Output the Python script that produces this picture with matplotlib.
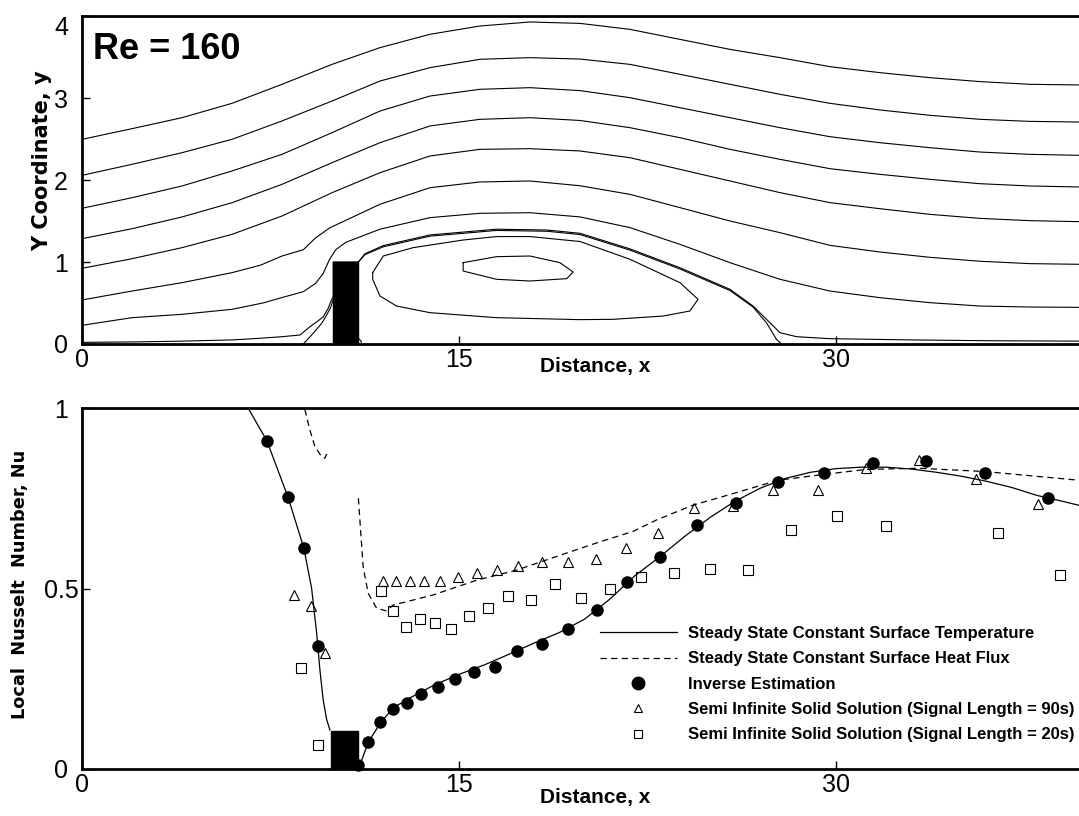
import matplotlib
matplotlib.use('Agg')
import matplotlib.pyplot as plt
from matplotlib.patches import Rectangle
from matplotlib.lines import Line2D

NARROW = ['Liberation Sans Narrow', 'Liberation Sans', 'DejaVu Sans']

# ---- streamlines, Re = 160 ----
x_st = [0, 1.99, 3.98, 5.97, 7.96, 9.95, 11.86, 13.85, 15.84, 17.83, 19.82,
        21.81, 23.8, 25.79, 27.78, 29.77, 31.76, 33.75, 35.74, 37.73, 39.7]
psi1 = [2.496, 2.626, 2.76, 2.935, 3.167, 3.41, 3.614, 3.777, 3.878, 3.927, 3.91,
        3.837, 3.715, 3.593, 3.492, 3.382, 3.309, 3.248, 3.2, 3.167, 3.159]
psi2 = [2.057, 2.191, 2.333, 2.496, 2.72, 2.963, 3.207, 3.37, 3.472, 3.492, 3.475,
        3.41, 3.289, 3.167, 3.045, 2.935, 2.854, 2.789, 2.74, 2.715, 2.707]
psi3 = [1.655, 1.784, 1.927, 2.11, 2.313, 2.577, 2.841, 3.024, 3.106, 3.126, 3.09,
        3.004, 2.882, 2.76, 2.638, 2.528, 2.455, 2.394, 2.341, 2.313, 2.301]
psi4 = [1.284, 1.406, 1.549, 1.723, 1.947, 2.211, 2.455, 2.659, 2.74, 2.76, 2.726,
        2.638, 2.516, 2.374, 2.252, 2.138, 2.069, 2.008, 1.955, 1.927, 1.915]
psi5 = [0.923, 1.04, 1.175, 1.337, 1.561, 1.845, 2.089, 2.293, 2.374, 2.382, 2.354,
        2.272, 2.13, 1.988, 1.846, 1.724, 1.65, 1.581, 1.532, 1.504, 1.492]

x_psi6 = [0, 1.99, 3.98, 5.97, 7.12, 7.96, 8.81, 9.28, 9.87, 11.86, 13.85, 15.84,
          17.83, 19.82, 21.81, 23.8, 25.79, 27.78, 29.77, 31.76, 33.75, 35.74, 37.73, 39.7]
psi6 = [0.537, 0.646, 0.748, 0.87, 0.963, 1.073, 1.15, 1.29, 1.418, 1.704, 1.906, 1.976,
        1.988, 1.93, 1.825, 1.663, 1.5, 1.358, 1.203, 1.122, 1.057, 1.009, 0.98, 0.972]

x_psi7 = [0, 1.99, 3.98, 5.97, 7.2, 8.0, 8.81, 9.3, 9.6, 9.85, 10.1, 10.5, 11.86, 13.85,
          15.84, 17.83, 19.82, 21.81, 23.8, 25.79, 27.78, 29.77, 31.76, 33.75, 35.74,
          37.73, 39.7]
psi7 = [0.228, 0.321, 0.362, 0.423, 0.5, 0.57, 0.638, 0.74, 0.86, 1.03, 1.15, 1.24, 1.40,
        1.541, 1.594, 1.601, 1.55, 1.419, 1.215, 0.992, 0.789, 0.646, 0.565, 0.504, 0.463,
        0.451, 0.447]

# dividing streamline: along the wall, up the block face, over it, reattaching
x_div = [0, 2, 4, 6, 7.1, 8.0, 8.68, 9.07, 9.34, 9.6, 9.8, 9.9, 10.0, 10.0, 11.0, 11.26,
         11.99, 13.85, 16.5, 18.5, 19.82, 21.81, 23.8, 25.79, 26.71, 27.38, 27.78, 28.44,
         29.77, 33.0, 36.0, 39.7]
y_div = [0.02, 0.025, 0.035, 0.05, 0.07, 0.09, 0.11, 0.21, 0.27, 0.33, 0.435, 0.516, 0.58,
         1.0, 1.0, 1.1, 1.2, 1.33, 1.40, 1.39, 1.35, 1.16, 0.93, 0.667, 0.463, 0.26, 0.138,
         0.089, 0.065, 0.05, 0.04, 0.035]

x_sep = [11.0, 11.26, 11.99, 13.85, 16.5, 18.5, 19.82, 21.81, 23.8, 25.79, 26.71, 27.24,
         27.44, 27.64, 27.84]
y_sep = [1.0, 1.09, 1.185, 1.315, 1.385, 1.375, 1.335, 1.145, 0.915, 0.652, 0.45, 0.26,
         0.159, 0.057, 0.0]

x_bub = [11.57, 11.99, 13.18, 15.17, 16.5, 17.83, 19.82, 21.81, 23.8, 24.52, 24.19, 23.13,
         21.14, 19.82, 16.5, 13.85, 12.52, 11.86, 11.57, 11.57]
y_bub = [0.87, 1.073, 1.175, 1.268, 1.31, 1.31, 1.25, 1.033, 0.748, 0.545, 0.402, 0.341,
         0.301, 0.297, 0.321, 0.382, 0.463, 0.585, 0.789, 0.87]

x_core = [15.17, 16.5, 17.83, 19.02, 19.55, 19.29, 17.83, 16.5, 15.17, 15.17]
y_core = [0.992, 1.065, 1.073, 0.992, 0.878, 0.797, 0.768, 0.789, 0.89, 0.992]

x_front = [8.81, 9.2, 9.54, 9.74, 9.9, 9.97, 10.0]
y_front = [0.0, 0.13, 0.252, 0.354, 0.448, 0.516, 0.55]

x_corner = [11.0, 11.1, 11.13]
y_corner = [0.07, 0.04, 0.0]

# ---- local Nusselt number ----
x_t_up = [6.61, 7.36, 8.2, 8.83, 9.14, 9.34, 9.47, 9.6, 9.74, 9.87]
nu_t_up = [1.0, 0.909, 0.753, 0.612, 0.50, 0.376, 0.274, 0.191, 0.136, 0.108]
x_t_dn = [11.0, 11.4, 11.9, 12.4, 13.0, 14.0, 15.0, 16.0, 17.0, 18.0, 19.0, 20.0, 21.0,
          22.0, 23.0, 24.0, 25.0, 26.0, 27.0, 28.0, 29.0, 30.0, 31.0, 32.0, 33.0, 34.0,
          35.0, 36.0, 37.0, 38.0, 39.0, 40.0]
nu_t_dn = [0.0, 0.075, 0.13, 0.17, 0.195, 0.232, 0.262, 0.288, 0.318, 0.349, 0.378, 0.415,
           0.47, 0.535, 0.588, 0.645, 0.697, 0.742, 0.778, 0.805, 0.822, 0.832, 0.836,
           0.836, 0.831, 0.822, 0.811, 0.797, 0.78, 0.758, 0.742, 0.725]

x_q_up = [8.87, 9.07, 9.27, 9.54, 9.67, 9.74]
nu_q_up = [0.996, 0.939, 0.893, 0.865, 0.861, 0.873]
x_q_dn = [11.0, 11.06, 11.19, 11.39, 11.73, 12.12, 12.38, 13.97, 15.71, 17.3, 19.28, 20.6,
          21.93, 22.87, 24.32, 25.92, 27.71, 29.53, 31.22, 33.35, 35.93, 39.67]
nu_q_dn = [0.75, 0.69, 0.56, 0.487, 0.445, 0.438, 0.454, 0.482, 0.523, 0.551, 0.598, 0.629,
           0.658, 0.69, 0.731, 0.763, 0.8, 0.816, 0.83, 0.833, 0.824, 0.80]

x_inv = [7.36, 8.20, 8.83, 9.39, 11.0, 11.37, 11.86, 12.36, 12.92, 13.51, 14.15, 14.85,
         15.61, 16.45, 17.33, 18.32, 19.35, 20.48, 21.71, 23.01, 24.46, 26.01, 27.71,
         29.53, 31.49, 33.6, 35.93, 38.43]
nu_inv = [0.909, 0.753, 0.612, 0.341, 0.01, 0.076, 0.131, 0.166, 0.184, 0.208, 0.228, 0.248,
          0.270, 0.283, 0.327, 0.345, 0.388, 0.440, 0.518, 0.588, 0.676, 0.738, 0.796,
          0.821, 0.849, 0.853, 0.819, 0.752]

x_90s = [8.45, 9.11, 9.67, 11.99, 12.50, 13.05, 13.62, 14.25, 14.95, 15.71, 16.50, 17.36,
         18.32, 19.35, 20.45, 21.65, 22.93, 24.37, 25.92, 27.51, 29.3, 31.22, 33.32, 35.6,
         38.03]
nu_90s = [0.482, 0.451, 0.320, 0.522, 0.522, 0.522, 0.522, 0.522, 0.531, 0.544, 0.551,
          0.563, 0.573, 0.574, 0.582, 0.612, 0.653, 0.724, 0.729, 0.773, 0.774, 0.833,
          0.856, 0.803, 0.734]

x_20s = [8.72, 9.38, 11.90, 12.39, 12.88, 13.44, 14.03, 14.68, 15.39, 16.14, 16.96, 17.86,
         18.82, 19.88, 21.01, 22.23, 23.56, 25.0, 26.52, 28.21, 30.03, 31.99, 36.44, 38.94]
nu_20s = [0.279, 0.066, 0.493, 0.438, 0.393, 0.415, 0.404, 0.387, 0.425, 0.445, 0.479,
          0.468, 0.512, 0.473, 0.498, 0.533, 0.542, 0.555, 0.552, 0.662, 0.701, 0.674,
          0.655, 0.537]

labels = ['Steady State Constant Surface Temperature',
          'Steady State Constant Surface Heat Flux',
          'Inverse Estimation',
          'Semi Infinite Solid Solution (Signal Length = 90s)',
          'Semi Infinite Solid Solution (Signal Length = 20s)']

W, H = 1079, 816
fig = plt.figure(figsize=(W / 100, H / 100), dpi=100)
left = 82 / W
width = (1087 - 82) / W
ax1 = fig.add_axes([left, (H - 344) / H, width, 328 / H])
ax2 = fig.add_axes([left, (H - 769) / H, width, 361 / H])


def style(ax):
    for s in ('left', 'bottom', 'top'):
        ax.spines[s].set_linewidth(2)
    ax.spines['right'].set_visible(False)
    ax.tick_params(direction='in', length=6, width=1, labelsize=18)
    ax.tick_params(axis='x', pad=3)
    ax.tick_params(axis='y', pad=15)
    for lab in ax.get_xticklabels() + ax.get_yticklabels():
        lab.set_family(NARROW)
    for lab in ax.get_yticklabels():
        lab.set_ha('center')


# top: streamlines
lw = 0.8
for yy in (psi1, psi2, psi3, psi4, psi5):
    ax1.plot(x_st, yy, color='k', lw=lw)
ax1.plot(x_psi6, psi6, color='k', lw=lw)
ax1.plot(x_psi7, psi7, color='k', lw=lw)
ax1.plot(x_div, y_div, color='k', lw=lw)
ax1.plot(x_sep, y_sep, color='k', lw=lw)
ax1.plot(x_bub, y_bub, color='k', lw=lw)
ax1.plot(x_core, y_core, color='k', lw=lw)
ax1.plot(x_front, y_front, color='k', lw=lw)
ax1.plot(x_corner, y_corner, color='k', lw=lw)
ax1.add_patch(Rectangle((10, 0), 1, 1, color='k', zorder=3))
ax1.set_xlim(0, 40)
ax1.set_ylim(0, 4)
ax1.set_xticks([0, 15, 30])
ax1.set_xticklabels(['0', '15', '30'])
ax1.set_yticks([0, 1, 2, 3, 4])
ax1.set_yticklabels(['0', '1', '2', '3', '4'])
style(ax1)
ax1.get_yticklabels()[-1].set_va('top')

# bottom: Nusselt number
ax2.plot(x_t_up, nu_t_up, color='k', lw=0.9)
ax2.plot(x_t_dn, nu_t_dn, color='k', lw=0.9)
ax2.plot(x_q_up, nu_q_up, color='k', lw=0.9, dashes=(5, 3.5))
ax2.plot(x_q_dn, nu_q_dn, color='k', lw=0.9, dashes=(5, 3.5))
ax2.plot(x_inv, nu_inv, 'o', color='k', ms=8, clip_on=False, zorder=4)
ax2.plot(x_90s, nu_90s, '^', mfc='none', mec='k', mew=0.8, ms=7, zorder=4)
ax2.plot(x_20s, nu_20s, 's', mfc='none', mec='k', mew=0.8, ms=6.5, zorder=4)
ax2.add_patch(Rectangle((9.9, 0), 1.1, 0.105, color='k', zorder=3))
ax2.set_xlim(0, 40)
ax2.set_ylim(0, 1)
ax2.set_xticks([0, 15, 30])
ax2.set_xticklabels(['0', '15', '30'])
ax2.set_yticks([0, 0.5, 1])
ax2.set_yticklabels(['0', '0.5', '1'])
style(ax2)

handles = [Line2D([], [], color='k', lw=0.9),
           Line2D([], [], color='k', lw=0.9, dashes=(5, 3.5)),
           Line2D([], [], ls='none', marker='o', color='k', ms=9),
           Line2D([], [], ls='none', marker='^', mfc='none', mec='k', mew=0.8, ms=6),
           Line2D([], [], ls='none', marker='s', mfc='none', mec='k', mew=0.8, ms=5.5)]
fig.legend(handles, labels, loc='upper left', bbox_to_anchor=(600 / W, 1 - 626 / H),
           frameon=False, borderpad=0, borderaxespad=0, handlelength=4.6,
           handletextpad=0.66, labelspacing=0.62,
           prop={'family': NARROW, 'weight': 'bold', 'size': 12})

# labels
fig.text(93 / W, 1 - 32 / H, 'Re = 160', family=NARROW, weight='bold', size=26,
         ha='left', va='top')
fig.text(595 / W, 1 - 357 / H, 'Distance, x', family=NARROW, weight='bold', size=15,
         ha='center', va='top')
fig.text(595 / W, 1 - 788 / H, 'Distance, x', family=NARROW, weight='bold', size=15,
         ha='center', va='top')
fig.text(42 / W, 1 - 161 / H, 'Y Coordinate, y', family='DejaVu Sans', weight='bold',
         size=15, rotation=90, ha='center', va='center')
fig.text(20 / W, 1 - 584 / H, 'Local  Nusselt  Number, Nu', family='DejaVu Sans',
         weight='bold', size=12.8, rotation=90, ha='center', va='center')

fig.savefig('out.png', dpi=100)
